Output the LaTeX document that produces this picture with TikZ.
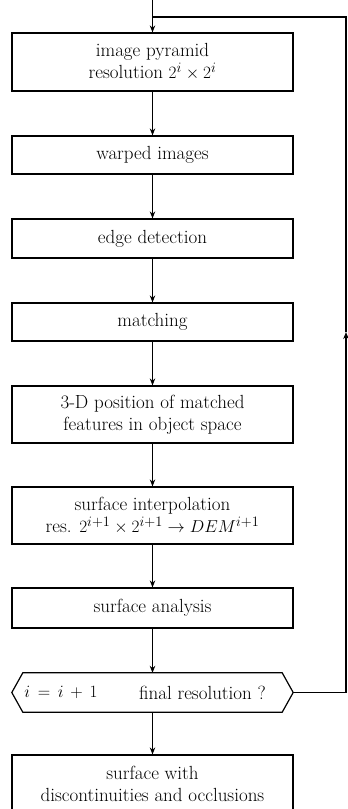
\documentclass[tikz,border=0pt]{standalone}
\usetikzlibrary{arrows.meta,calc}
\begin{document}
\begin{tikzpicture}[x=1pt,y=-1pt,
  every node/.style={font=\fontsize{19}{22}\selectfont},
  box/.style={draw,line width=1.2pt,minimum width=281pt,inner sep=0pt,align=center},
  flow/.style={line width=1.2pt,-{Stealth[length=7pt,width=5.5pt]}},
  plain/.style={line width=1.2pt}]
\useasboundingbox (0,0) rectangle (348,809);
\node[box,minimum height=58pt] (b1) at (152.5,62) {image pyramid\\resolution $2^i\times 2^i$};
\node[box,minimum height=38pt] (b2) at (152.5,155) {warped images};
\node[box,minimum height=39pt] (b3) at (152.5,238.5) {edge detection};
\node[box,minimum height=38pt] (b4) at (152.5,322) {matching};
\node[box,minimum height=57pt] (b5) at (152.5,414.5) {3-D position of matched\\features in object space};
\node[box,minimum height=57pt] (b6) at (152.5,515.5) {surface interpolation\\res. $2^{i+1}\times 2^{i+1}\rightarrow DEM^{i+1}$};
\node[box,minimum height=40pt] (b7) at (152.5,608) {surface analysis};
\node[minimum width=281pt,minimum height=39pt,inner sep=0pt] (hex) at (152.5,692.5) {};
\node[inner sep=0pt] (hexa) at (61,692.5) {$i\,=\,i\,+\,1$};
\node[inner sep=0pt] (hexb) at (202.5,692.5) {final resolution ?};
\node[box,minimum height=58pt] (b9) at (152.5,784) {surface with\\discontinuities and occlusions};
\draw[plain] (hex.west) -- ($(hex.north west)+(11,0)$) -- ($(hex.north east)+(-11,0)$) -- (hex.east)
  -- ($(hex.south east)+(-11,0)$) -- ($(hex.south west)+(11,0)$) -- cycle;
\coordinate (start) at (152.5,0);
\coordinate (join) at (152.5,17);
\coordinate (tr) at (346,17);
\coordinate (br) at (346,692.5);
\coordinate (mid) at (346,332);
\draw[flow] (start) -- (b1.north);
\draw[flow] (b1.south) -- (b2.north);
\draw[flow] (b2.south) -- (b3.north);
\draw[flow] (b3.south) -- (b4.north);
\draw[flow] (b4.south) -- (b5.north);
\draw[flow] (b5.south) -- (b6.north);
\draw[flow] (b6.south) -- (b7.north);
\draw[flow] (b7.south) -- (hex.north);
\draw[flow] (hex.south) -- (b9.north);
\draw[flow] (hex.east) -- (br) -- (mid);
\draw[plain] (mid) -- (tr) -- (join);
\end{tikzpicture}
\end{document}
